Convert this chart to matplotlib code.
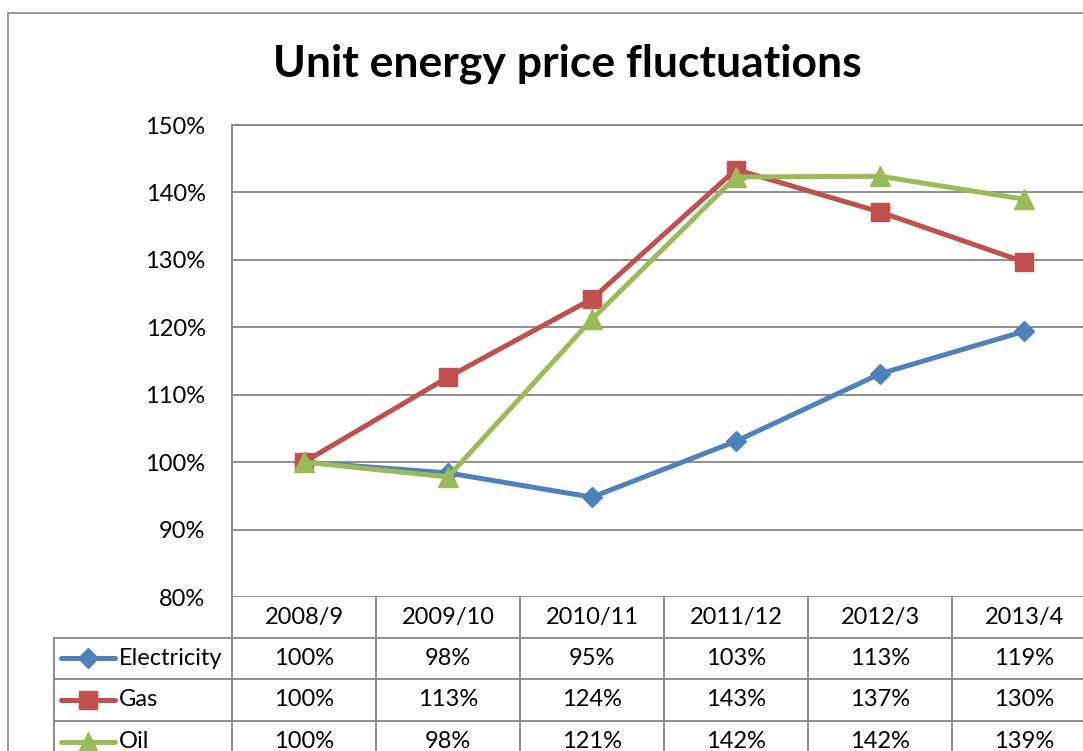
import matplotlib
matplotlib.use("Agg")
import matplotlib.pyplot as plt
from matplotlib.lines import Line2D
from matplotlib.patches import Rectangle
from matplotlib.ticker import FuncFormatter, MultipleLocator
import matplotlib.transforms as mtransforms

plt.rcParams['font.family'] = ['Lato', 'DejaVu Sans']

categories = ["2008/9", "2009/10", "2010/11", "2011/12", "2012/3", "2013/4"]
electricity = [100.0, 98.4, 94.8, 103.1, 113.1, 119.4]
gas = [100.0, 112.6, 124.2, 143.4, 137.1, 129.7]
oil = [100.0, 97.8, 121.2, 142.3, 142.4, 139.0]
series_names = ["Electricity", "Gas", "Oil"]
title = "Unit energy price fluctuations"

colors = ["#4F81BD", "#C0504D", "#9BBB59"]
markers = ["D", "s", "^"]
msizes = [10.5, 12.5, 14]
grid_c = "#868686"

W, H = 1083, 751
fig = plt.figure(figsize=(W / 100, H / 100), dpi=100)

def fx(px):
    return px / W

def fy(py):
    return 1 - py / H

# outer chart border
fig.add_artist(Rectangle((fx(7.5), fy(800)), fx(1200) - fx(7.5), fy(12.7) - fy(800),
                         transform=fig.transFigure, fill=False, edgecolor=grid_c, lw=1.2))

left, right, top, bottom = 232, 1096, 125, 597
ax = fig.add_axes([fx(left), fy(bottom), fx(right) - fx(left), fy(top) - fy(bottom)])

x = list(range(len(categories)))
for vals, c, m, ms, name in zip([electricity, gas, oil], colors, markers, msizes, series_names):
    ax.plot(x, vals, color=c, lw=3.6, marker=m, ms=ms, mec=c, mfc=c, label=name, zorder=3,
            clip_on=False)

ax.set_xlim(-0.5, len(categories) - 0.5)
ax.set_ylim(80, 150)
ax.yaxis.set_major_locator(MultipleLocator(10))
ax.yaxis.set_major_formatter(FuncFormatter(lambda v, p: f"{v:.0f}%"))
ax.grid(axis="y", color=grid_c, lw=1.3)
ax.set_axisbelow(True)
ax.set_xticks([])
ax.tick_params(axis="y", length=0, pad=19, labelsize=17)
for s in ["right", "bottom"]:
    ax.spines[s].set_visible(False)
for s in ["left", "top"]:
    ax.spines[s].set_color(grid_c)
    ax.spines[s].set_linewidth(1.3)

fig.text(fx(567), fy(64), title, ha="center", va="center", fontsize=32, fontweight="bold")

# data table
bt = mtransforms.blended_transform_factory(ax.transData, fig.transFigure)
row_lines = [597, 637.5, 679, 721, 763]
col_edges = [i - 0.5 for i in range(len(categories) + 1)]
legend_left = 54

def hline(x0, x1, y, trans):
    fig.add_artist(Line2D([x0, x1], [fy(y), fy(y)], transform=trans, color=grid_c, lw=1.3))

for y in row_lines[1:]:
    fig.add_artist(Line2D([fx(legend_left), fx(left)], [fy(y), fy(y)], transform=fig.transFigure,
                          color=grid_c, lw=1.3))
    hline(-0.5, len(categories) - 0.5, y, bt)
for ce in col_edges:
    fig.add_artist(Line2D([ce, ce], [fy(row_lines[0]), fy(row_lines[-1])], transform=bt,
                          color=grid_c, lw=1.3))
fig.add_artist(Line2D([fx(legend_left), fx(legend_left)], [fy(row_lines[1]), fy(row_lines[-1])],
                      transform=fig.transFigure, color=grid_c, lw=1.3))

fs = 17
for i, cat in enumerate(categories):
    fig.text(i, fy((row_lines[0] + row_lines[1]) / 2), cat, transform=bt, ha="center", va="center",
             fontsize=fs)

for r, (vals, c, m, ms, name) in enumerate(zip([electricity, gas, oil], colors, markers, msizes,
                                                series_names)):
    yc = fy((row_lines[r + 1] + row_lines[r + 2]) / 2)
    fig.add_artist(Line2D([fx(61), fx(115)], [yc, yc], transform=fig.transFigure, color=c, lw=3.6,
                          solid_capstyle="round"))
    fig.add_artist(Line2D([fx(88)], [yc], transform=fig.transFigure, color=c, marker=m,
                          ms=ms, mec=c, mfc=c))
    fig.text(fx(119), yc, name, ha="left", va="center", fontsize=fs)
    for i, v in enumerate(vals):
        fig.text(i, yc, f"{round(v)}%", transform=bt, ha="center", va="center", fontsize=fs)

fig.savefig("out.png", dpi=100)
